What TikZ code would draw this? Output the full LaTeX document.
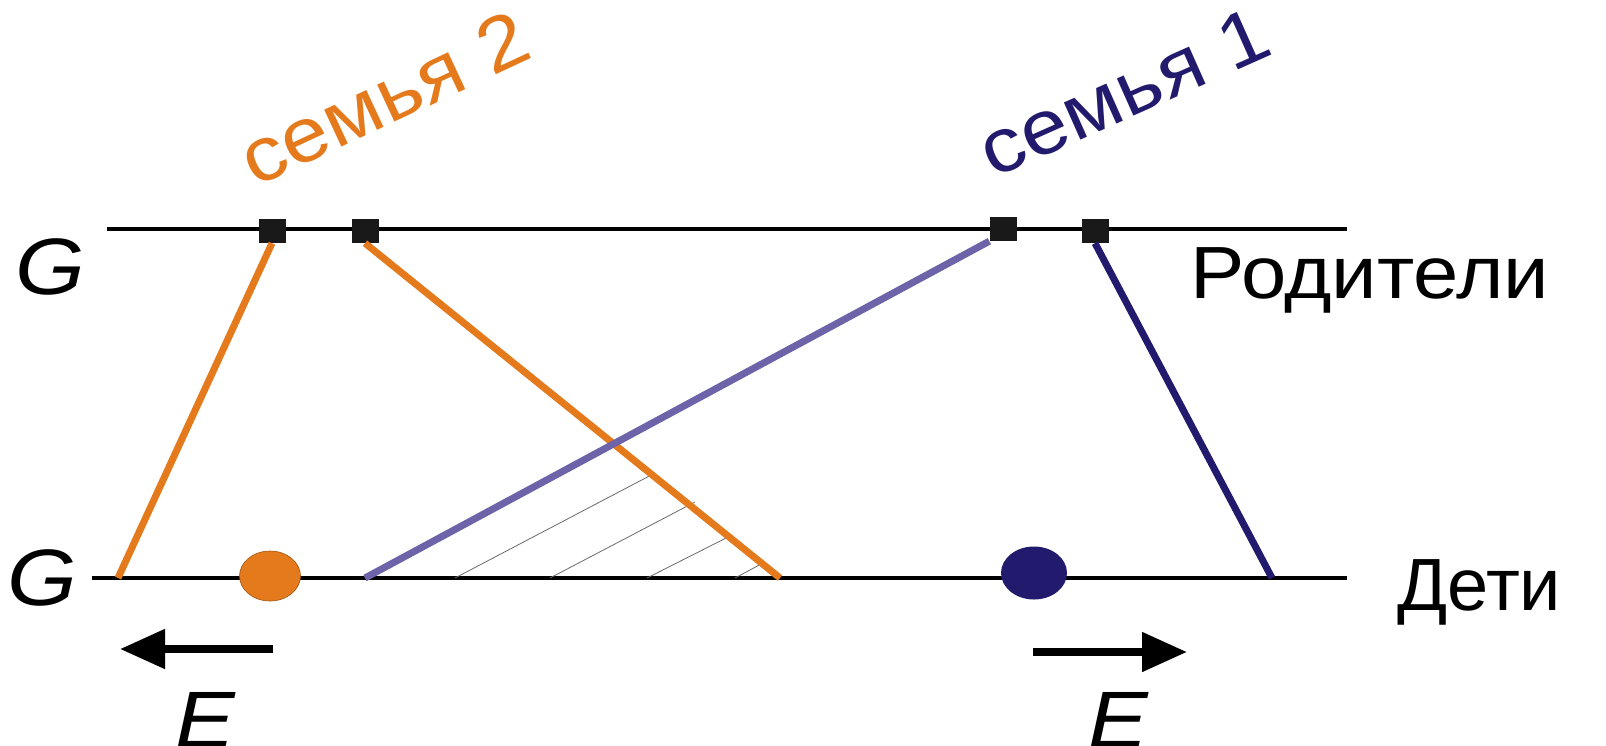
\documentclass[tikz,border=0pt]{standalone}
\usepackage{fontspec}
\setmainfont{Liberation Sans}
\newfontfamily\widesans[FakeStretch=1.1]{Liberation Sans}
\newfontfamily\widesansit[FakeStretch=1.12]{Liberation Sans Italic}
\usetikzlibrary{arrows.meta,shapes.geometric}
\definecolor{orng}{HTML}{E57A1C}
\definecolor{navy}{HTML}{221A6C}
\definecolor{lilac}{HTML}{6C63A8}
\definecolor{hatch}{HTML}{6A6A6A}
\tikzset{
  gen/.style={line width=3.2pt, black},
  sq/.style={fill=black!90, minimum width=27pt, minimum height=24pt, inner sep=0pt},
  child/.style={ellipse, minimum width=#1, minimum height=50pt, inner sep=0pt},
  link/.style={line width=7pt},
  hatchline/.style={line width=0.8pt, hatch},
  dir/.style={line width=8pt, -{Triangle[length=45pt,width=38pt]}},
  glab/.style={font=\widesansit\fontsize{80}{90}\selectfont, inner sep=0pt},
  wlab/.style={font=\fontsize{74}{84}\selectfont, inner sep=0pt},
  widelab/.style={font=\widesans\fontsize{74}{84}\selectfont, inner sep=0pt},
  famlab/.style={font=\widesans\fontsize{77}{86}\selectfont, inner sep=0pt},
}
\begin{document}
\begin{tikzpicture}[x=1pt,y=-1pt]
\useasboundingbox (0,0) rectangle (1606,745);
% generation lines
\coordinate (tl) at (107,229);
\coordinate (tr) at (1347,229);
\coordinate (bl) at (92,578);
\coordinate (br) at (1347,578);
\draw[gen] (tl) -- (tr);
\draw[gen] (bl) -- (br);
% foot points on children line
\coordinate (f1) at (118,578);
\coordinate (f2) at (780,578);
\coordinate (f3) at (365,578);
\coordinate (f4) at (1272,578);
% hatching (parallel to lilac line, bounded by orange line)
\coordinate (h1a) at (455,578); \coordinate (h1b) at (655,473);
\coordinate (h2a) at (550,578); \coordinate (h2b) at (695,502);
\coordinate (h3a) at (647,578); \coordinate (h3b) at (732,535);
\coordinate (h4a) at (735,578); \coordinate (h4b) at (763,563);
\draw[hatchline] (h1a) -- (h1b);
\draw[hatchline] (h2a) -- (h2b);
\draw[hatchline] (h3a) -- (h3b);
\draw[hatchline] (h4a) -- (h4b);
% parent squares
\node[sq] (p1) at (272,231) {};
\node[sq] (p2) at (365,231) {};
\node[sq] (p3) at (1003,229) {};
\node[sq] (p4) at (1095,231) {};
% family links
\draw[link, orng] (p1.south) -- (f1);
\draw[link, orng] (p2.south) -- (f2);
\draw[link, lilac] (p3.south west) -- (f3);
\draw[link, navy] (p4.south) -- (f4);
% children
\node[child=61pt, fill=orng, draw=orng!70!black, line width=0.6pt] (c2) at (270,576) {};
\node[child=66pt, minimum height=53pt, fill=navy] (c1) at (1034,573) {};
% direction arrows
\coordinate (a1s) at (273,649); \coordinate (a1e) at (120,649);
\coordinate (a2s) at (1033,652); \coordinate (a2e) at (1187,652);
\draw[dir] (a1s) -- (a1e);
\draw[dir] (a2s) -- (a2e);
% labels
\node[glab] (g1) at (50,267) {G};
\node[glab] (g2) at (42,578) {G};
\node[glab, anchor=base] (e1) at (205,747) {E};
\node[glab, anchor=base] (e2) at (1118,747) {E};
\node[widelab, anchor=base west] (par) at (1190,298) {Родители};
\node[wlab, anchor=base west] (kid) at (1397,610) {Дети};
\node[famlab, text=orng, rotate=25] (fam2) at (384,98) {семья 2};
\node[famlab, text=navy, rotate=24] (fam1) at (1124,92) {семья 1};
\end{tikzpicture}
\end{document}
